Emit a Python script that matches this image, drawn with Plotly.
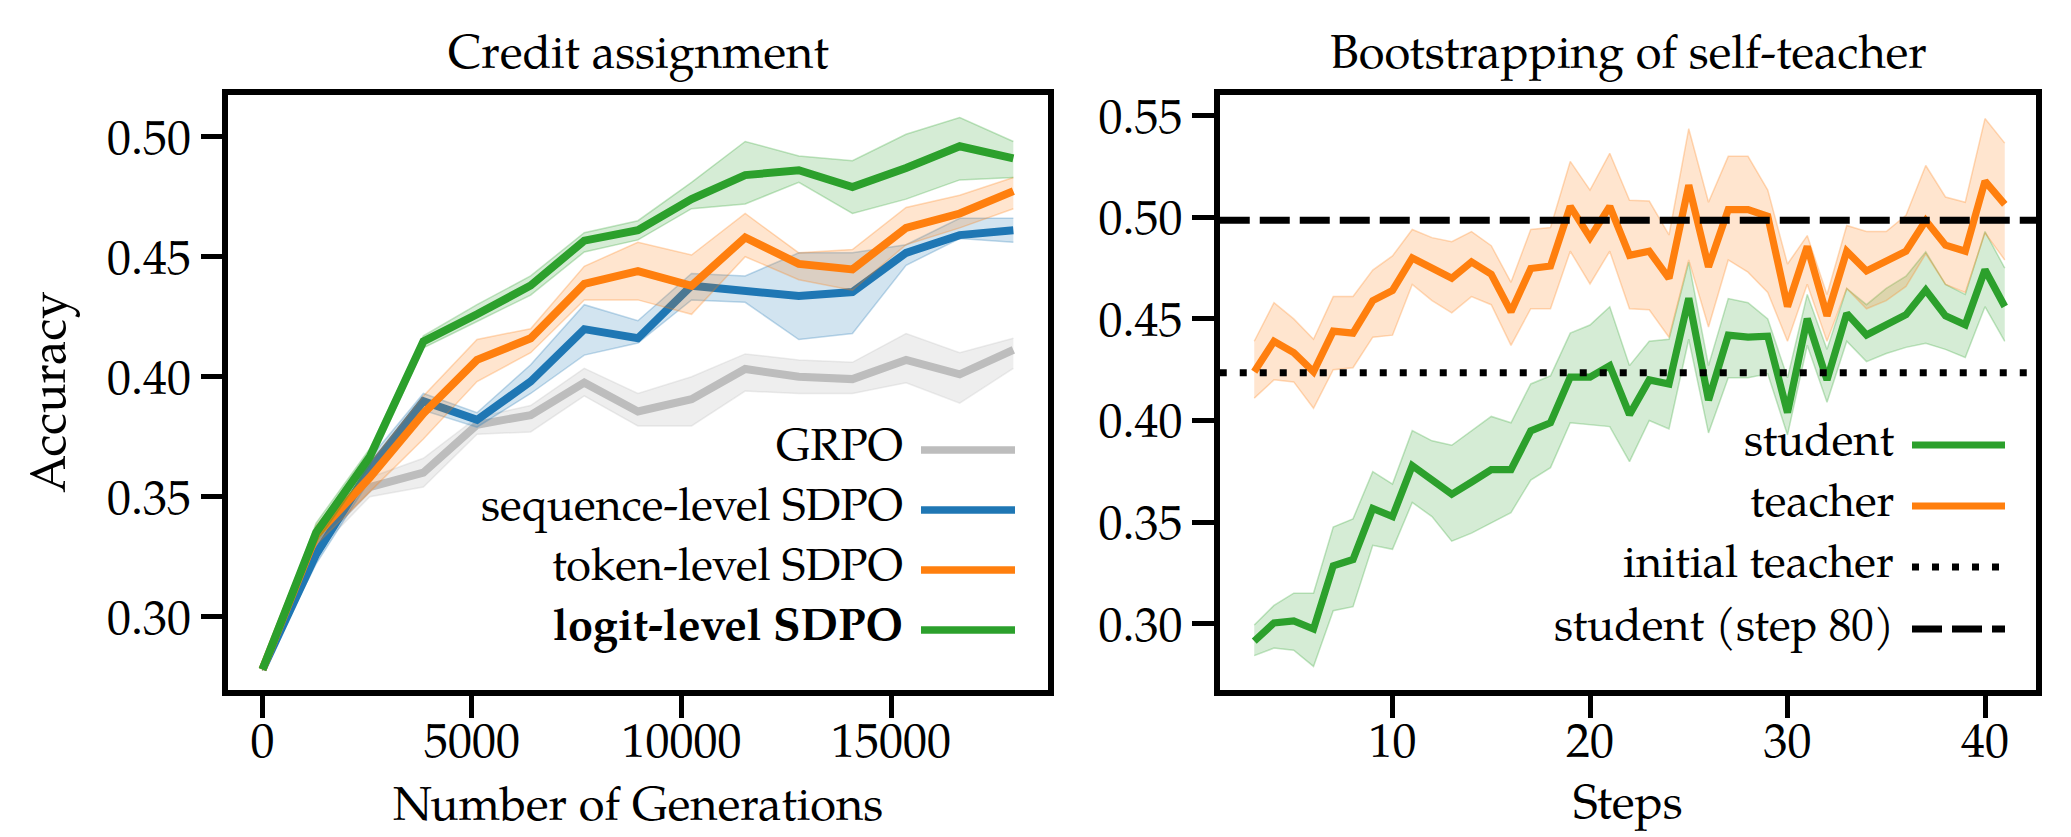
import plotly.graph_objects as go

W, H = 2071, 837
FONT = "Palatino Linotype, Palatino, P052, 'URW Palladio L', 'TeX Gyre Pagella', 'Liberation Serif', serif"

# ---------------- data: left panel ----------------
generations = [0, 1280, 2560, 3840, 5120, 6400, 7680, 8960, 10240, 11520, 12800, 14080, 15360, 16640, 17920]

grpo_mean = [0.278, 0.331, 0.354, 0.360, 0.380, 0.384, 0.3975, 0.3855, 0.3906, 0.4032, 0.400, 0.399, 0.407, 0.401, 0.4112]
grpo_lo = [0.2775, 0.327, 0.350, 0.354, 0.376, 0.377, 0.392, 0.3795, 0.3795, 0.394, 0.393, 0.393, 0.3975, 0.389, 0.4035]
grpo_hi = [0.2785, 0.334, 0.358, 0.366, 0.383, 0.388, 0.4035, 0.393, 0.400, 0.4095, 0.407, 0.406, 0.418, 0.410, 0.416]

seq_mean = [0.278, 0.326, 0.3615, 0.3898, 0.382, 0.398, 0.4198, 0.416, 0.4379, 0.436, 0.4336, 0.4353, 0.4516, 0.459, 0.461]
seq_lo = [0.2775, 0.322, 0.357, 0.386, 0.379, 0.393, 0.409, 0.414, 0.432, 0.431, 0.4155, 0.418, 0.4464, 0.4576, 0.456]
seq_hi = [0.2785, 0.330, 0.366, 0.393, 0.385, 0.405, 0.430, 0.4233, 0.443, 0.442, 0.4516, 0.4516, 0.455, 0.466, 0.466]

tok_mean = [0.278, 0.334, 0.358, 0.3847, 0.407, 0.416, 0.4387, 0.444, 0.4379, 0.458, 0.447, 0.4447, 0.462, 0.468, 0.4773]
tok_lo = [0.2775, 0.330, 0.352, 0.374, 0.398, 0.410, 0.432, 0.432, 0.426, 0.450, 0.4404, 0.436, 0.455, 0.462, 0.470]
tok_hi = [0.2785, 0.338, 0.364, 0.392, 0.4155, 0.420, 0.446, 0.456, 0.4507, 0.468, 0.4516, 0.453, 0.4705, 0.4756, 0.483]

logit_mean = [0.278, 0.335, 0.3666, 0.4147, 0.426, 0.438, 0.4567, 0.461, 0.474, 0.484, 0.486, 0.479, 0.487, 0.496, 0.491]
logit_lo = [0.2775, 0.331, 0.363, 0.412, 0.423, 0.434, 0.452, 0.457, 0.470, 0.472, 0.481, 0.468, 0.474, 0.482, 0.483]
logit_hi = [0.2785, 0.339, 0.370, 0.417, 0.430, 0.442, 0.460, 0.465, 0.481, 0.498, 0.492, 0.490, 0.501, 0.508, 0.498]

left_xticks = [0, 5000, 10000, 15000]
left_yticks = [0.30, 0.35, 0.40, 0.45, 0.50]

# ---------------- data: right panel ----------------
steps = [3, 4, 5, 6, 7, 8, 9, 10, 11, 12, 13, 14, 15, 16, 17, 18, 19, 20, 21, 22,
         23, 24, 25, 26, 27, 28, 29, 30, 31, 32, 33, 34, 35, 36, 37, 38, 39, 40, 41]

teacher_mean = [0.424, 0.439, 0.4334, 0.424, 0.444, 0.443, 0.459, 0.464, 0.480, 0.475,
                0.470, 0.478, 0.472, 0.4535, 0.4748, 0.476, 0.5054, 0.490, 0.5054, 0.4813,
                0.4833, 0.470, 0.5158, 0.4756, 0.5038, 0.5038, 0.5005, 0.4561, 0.4857, 0.4515,
                0.4833, 0.4736, 0.4783, 0.4833, 0.4984, 0.4863, 0.4833, 0.5178, 0.5064]
teacher_lo = [0.411, 0.420, 0.419, 0.406, 0.425, 0.426, 0.441, 0.442, 0.467, 0.459,
              0.453, 0.461, 0.457, 0.437, 0.455, 0.455, 0.4833, 0.4672, 0.4833, 0.455,
              0.4545, 0.441, 0.479, 0.446, 0.479, 0.473, 0.463, 0.439, 0.467, 0.439,
              0.465, 0.455, 0.459, 0.466, 0.482, 0.467, 0.463, 0.4923, 0.479]
teacher_hi = [0.439, 0.458, 0.450, 0.440, 0.461, 0.461, 0.474, 0.481, 0.494, 0.490,
              0.488, 0.493, 0.486, 0.468, 0.494, 0.495, 0.5275, 0.5134, 0.5315, 0.5084,
              0.508, 0.4913, 0.5436, 0.5074, 0.530, 0.530, 0.5134, 0.477, 0.491, 0.462,
              0.496, 0.493, 0.493, 0.501, 0.5255, 0.510, 0.5074, 0.5486, 0.5365]

student_mean = [0.2914, 0.3004, 0.3014, 0.2974, 0.3285, 0.3316, 0.3567, 0.3527, 0.3778, 0.3707,
                0.3637, 0.3697, 0.3758, 0.3758, 0.3949, 0.3989, 0.4214, 0.4214, 0.427, 0.4029,
                0.420, 0.418, 0.4602, 0.410, 0.442, 0.441, 0.4415, 0.4039, 0.4501, 0.420,
                0.4527, 0.4421, 0.4471, 0.4521, 0.4642, 0.4515, 0.4471, 0.4742, 0.4561]
student_lo = [0.2843, 0.288, 0.287, 0.279, 0.3064, 0.3084, 0.3386, 0.3366, 0.3597, 0.3527,
              0.3406, 0.3446, 0.3496, 0.3547, 0.3707, 0.3768, 0.3989, 0.398, 0.397, 0.3798,
              0.400, 0.3959, 0.440, 0.3939, 0.421, 0.421, 0.423, 0.3929, 0.437, 0.409,
              0.439, 0.429, 0.433, 0.436, 0.438, 0.435, 0.431, 0.456, 0.439]
student_hi = [0.2994, 0.309, 0.315, 0.315, 0.3476, 0.3516, 0.3748, 0.3687, 0.395, 0.390,
              0.3878, 0.395, 0.402, 0.3989, 0.418, 0.422, 0.443, 0.447, 0.456, 0.427,
              0.439, 0.440, 0.478, 0.427, 0.460, 0.458, 0.450, 0.421, 0.462, 0.435,
              0.465, 0.457, 0.465, 0.471, 0.483, 0.467, 0.462, 0.493, 0.475]

initial_teacher = 0.4235
student_step80 = 0.4985

right_xticks = [10, 20, 30, 40]
right_yticks = [0.30, 0.35, 0.40, 0.45, 0.50, 0.55]

# ---------------- styles ----------------
C_GRAY = (189, 189, 189)
C_BLUE = (31, 119, 180)
C_ORANGE = (255, 127, 14)
C_GREEN = (44, 160, 44)


def rgb(c, a=None):
    if a is None:
        return "rgb(%d,%d,%d)" % c
    return "rgba(%d,%d,%d,%.3f)" % (c + (a,))


fig = go.Figure()


def add_series(x, mean, lo, hi, color, xa, ya, lw, band_alpha=0.2):
    fig.add_trace(go.Scatter(x=x, y=lo, mode="lines", xaxis=xa, yaxis=ya,
                             line=dict(color=rgb(color, 0.28), width=1.5),
                             showlegend=False, hoverinfo="skip"))
    fig.add_trace(go.Scatter(x=x, y=hi, mode="lines", xaxis=xa, yaxis=ya,
                             fill="tonexty", fillcolor=rgb(color, band_alpha),
                             line=dict(color=rgb(color, 0.28), width=1.5),
                             showlegend=False, hoverinfo="skip"))
    fig.add_trace(go.Scatter(x=x, y=mean, mode="lines", xaxis=xa, yaxis=ya,
                             line=dict(color=rgb(color), width=lw),
                             showlegend=False))


LW_L = 8
LW_R = 7.2
add_series(generations, grpo_mean, grpo_lo, grpo_hi, C_GRAY, "x", "y", LW_L, 0.25)
add_series(generations, seq_mean, seq_lo, seq_hi, C_BLUE, "x", "y", LW_L)
add_series(generations, tok_mean, tok_lo, tok_hi, C_ORANGE, "x", "y", LW_L)
add_series(generations, logit_mean, logit_lo, logit_hi, C_GREEN, "x", "y", LW_L)

add_series(steps, student_mean, student_lo, student_hi, C_GREEN, "x2", "y2", LW_R)
add_series(steps, teacher_mean, teacher_lo, teacher_hi, C_ORANGE, "x2", "y2", LW_R)

DOT = "7px,13px"
DASH = "30px,10px"
shapes = [
    dict(type="line", xref="x2 domain", x0=0, x1=1, yref="y2", y0=initial_teacher, y1=initial_teacher,
         line=dict(color="black", width=7, dash=DOT), layer="above"),
    dict(type="line", xref="x2 domain", x0=0, x1=1, yref="y2", y0=student_step80, y1=student_step80,
         line=dict(color="black", width=7, dash=DASH), layer="above"),
]


def px(xp):
    return xp / W


def py(yp):
    return 1 - yp / H


annotations = []

left_legend = [("GRPO", C_GRAY, 450),
               ("sequence-level SDPO", C_BLUE, 510),
               ("token-level SDPO", C_ORANGE, 570),
               ("<b>logit-level SDPO</b>", C_GREEN, 630)]
for label, col, ypix in left_legend:
    annotations.append(dict(text=label, xref="paper", yref="paper", x=px(905), y=py(ypix),
                            xanchor="right", yanchor="middle", showarrow=False,
                            font=dict(family=FONT, size=45, color="black")))
    shapes.append(dict(type="line", xref="paper", yref="paper", x0=px(921), x1=px(1015),
                       y0=py(ypix), y1=py(ypix), line=dict(color=rgb(col), width=7.5)))

right_legend = [("student", rgb(C_GREEN), "solid", 445),
                ("teacher", rgb(C_ORANGE), "solid", 506),
                ("initial teacher", "black", DOT, 567),
                ("student (step 80)", "black", DASH, 629)]
for label, col, dash, ypix in right_legend:
    annotations.append(dict(text=label, xref="paper", yref="paper", x=px(1896), y=py(ypix),
                            xanchor="right", yanchor="middle", showarrow=False,
                            font=dict(family=FONT, size=45, color="black")))
    shapes.append(dict(type="line", xref="paper", yref="paper", x0=px(1912), x1=px(2005),
                       y0=py(ypix), y1=py(ypix), line=dict(color=col, width=7, dash=dash)))

annotations += [
    dict(text="Credit assignment", xref="paper", yref="paper", x=px(638), y=py(58),
         xanchor="center", yanchor="middle", showarrow=False, font=dict(family=FONT, size=47, color="black")),
    dict(text="Bootstrapping of self-teacher", xref="paper", yref="paper", x=px(1628), y=py(58),
         xanchor="center", yanchor="middle", showarrow=False, font=dict(family=FONT, size=47, color="black")),
    dict(text="Accuracy", xref="paper", yref="paper", x=px(54), y=py(392), textangle=-90,
         xanchor="center", yanchor="middle", showarrow=False, font=dict(family=FONT, size=49, color="black")),
    dict(text="Number of Generations", xref="paper", yref="paper", x=px(638), y=py(809),
         xanchor="center", yanchor="middle", showarrow=False, font=dict(family=FONT, size=47, color="black")),
    dict(text="Steps", xref="paper", yref="paper", x=px(1628), y=py(807),
         xanchor="center", yanchor="middle", showarrow=False, font=dict(family=FONT, size=47, color="black")),
]

axis_common = dict(showline=True, linecolor="black", linewidth=5.5, mirror=True,
                   ticks="outside", ticklen=22, tickwidth=5, tickcolor="black",
                   showgrid=False, zeroline=False,
                   tickfont=dict(family=FONT, size=48, color="black"))

ydom = [py(689.75), py(95.25)]
fig.update_layout(
    width=W, height=H, margin=dict(l=0, r=0, t=0, b=0),
    paper_bgcolor="white", plot_bgcolor="white",
    showlegend=False,
    xaxis=dict(domain=[px(228.25), px(1048.25)], range=[-817, 18753], anchor="y",
               tickvals=left_xticks, tickformat="d", ticklabelstandoff=-18, **axis_common),
    yaxis=dict(domain=ydom, range=[0.26956, 0.51727], anchor="x",
               tickvals=left_yticks, tickformat=".2f", **axis_common),
    xaxis2=dict(domain=[px(1219.75), px(2036.25)], range=[1.253, 42.595], anchor="y2",
                tickvals=right_xticks, tickformat="d", ticklabelstandoff=-18, **axis_common),
    yaxis2=dict(domain=ydom, range=[0.2675, 0.56007], anchor="x2",
                tickvals=right_yticks, tickformat=".2f", **axis_common),
    shapes=shapes,
    annotations=annotations,
)

fig.write_html("out.html")
